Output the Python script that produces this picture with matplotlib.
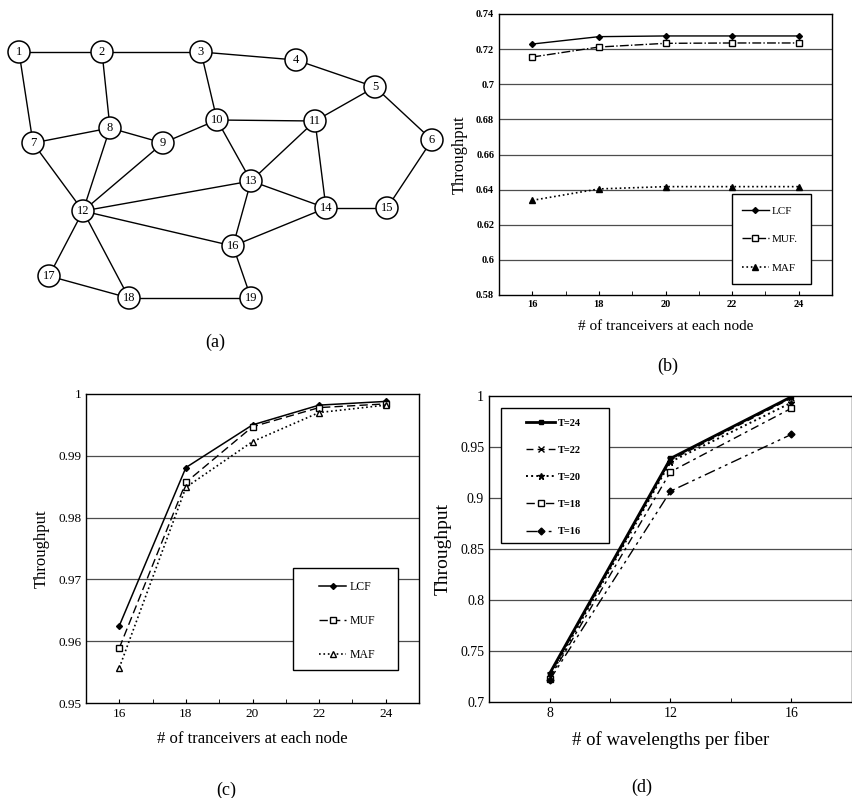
import numpy as np
import matplotlib
matplotlib.use("Agg")
import matplotlib.pyplot as plt
from matplotlib.patches import Circle, Rectangle

plt.rcParams["font.family"] = ["Liberation Serif", "DejaVu Serif"]

W, H = 853, 798

# ── (a) network topology ────────────────────────────────────────────────────
node_ids = list(range(1, 20))
node_x = [19, 102, 201, 296, 375, 432, 33, 110, 163, 217, 315, 83, 251, 326, 387, 233, 49, 129, 251]
node_y = [52, 52, 52, 60, 87, 140, 143, 128, 143, 120, 121, 211, 181, 208, 208, 246, 276, 298, 298]
links = [(1, 2), (2, 3), (3, 4), (4, 5), (1, 7), (2, 8), (3, 10), (5, 11), (5, 6),
         (6, 15), (7, 8), (8, 9), (9, 10), (10, 11), (10, 13), (11, 13), (11, 14),
         (7, 12), (8, 12), (9, 12), (12, 13), (12, 16), (13, 14), (13, 16), (14, 15),
         (14, 16), (12, 17), (12, 18), (17, 18), (18, 19), (16, 19)]

# ── (b) / (c) tranceivers ───────────────────────────────────────────────────
trx = [16, 18, 20, 22, 24]
b_lcf = [0.7229, 0.7271, 0.7275, 0.7275, 0.7275]
b_muf = [0.7155, 0.7212, 0.7233, 0.7235, 0.7235]
b_maf = [0.6339, 0.6404, 0.6417, 0.6417, 0.6417]

c_lcf = [0.9625, 0.9881, 0.9950, 0.9982, 0.9988]
c_muf = [0.9589, 0.9857, 0.9947, 0.9978, 0.9984]
c_maf = [0.9557, 0.9849, 0.9923, 0.9970, 0.9982]

# ── (d) wavelengths ─────────────────────────────────────────────────────────
wl = [8, 12, 16]
d_labels = ["T=24", "T=22", "T=20", "T=18", "T=16"]
d_vals = [
    [0.7277, 0.9388, 0.9993],
    [0.7260, 0.9370, 0.9980],
    [0.7245, 0.9355, 0.9935],
    [0.7230, 0.9257, 0.9880],
    [0.7212, 0.9067, 0.9624],
]


def px_axes(x0, y0, x1, y1):
    return fig.add_axes([x0 / W, 1 - y1 / H, (x1 - x0) / W, (y1 - y0) / H])


fig = plt.figure(figsize=(W / 100, H / 100), dpi=100)

# (a)
ax = px_axes(0, 0, 430, 330)
ax.set_xlim(0, 430)
ax.set_ylim(330, 0)
ax.axis("off")
pos = {n: (x, y) for n, x, y in zip(node_ids, node_x, node_y)}
for a, b in links:
    ax.plot([pos[a][0], pos[b][0]], [pos[a][1], pos[b][1]], color="k", lw=1, zorder=1)
for n in node_ids:
    x, y = pos[n]
    ax.add_patch(Circle((x, y), 11, facecolor="white", edgecolor="k", lw=1.1, zorder=2,
                        clip_on=False))
    ax.text(x, y, str(n), ha="center", va="center", fontsize=9, zorder=3)
fig.text(215 / W, 1 - 342 / H, "(a)", ha="center", va="center", fontsize=13)


def style_axes(ax, grid):
    for s in ax.spines.values():
        s.set_color("k")
        s.set_linewidth(1)
    for g in grid:
        ax.axhline(g, color="0.3", lw=0.9, zorder=0)
    ax.tick_params(axis="y", length=0)
    ax.tick_params(axis="x", which="both", direction="in", length=3)


def legend(ax, box, hx, y1, fs, step, hl):
    # box drawn in figure pixels, legend entries placed without frame inside it
    x0, y0, x1, y2 = box
    ax.add_patch(Rectangle((x0 / W, 1 - y2 / H), (x1 - x0) / W, (y2 - y0) / H,
                           transform=fig.transFigure, facecolor="white",
                           edgecolor="k", lw=1, zorder=4, clip_on=False))
    fs_px = fs * 100 / 72
    leg = ax.legend(loc="upper left", bbox_to_anchor=(hx / W, 1 - (y1 - 0.65 * fs_px) / H),
                    bbox_transform=fig.transFigure, frameon=False, fontsize=fs,
                    labelspacing=(step - fs_px) / fs_px, handlelength=hl,
                    handletextpad=0.3, borderpad=0, borderaxespad=0)
    leg.set_zorder(5)
    return leg


# (b)
ax = px_axes(499, 14, 832, 295)
ax.plot(trx, b_lcf, "k-", marker="D", ms=3, lw=1, label="LCF")
ax.plot(trx, b_muf, color="k", ls="-.", marker="s", ms=4, mfc="white", lw=1, label="MUF.")
ax.plot(trx, b_maf, color="k", ls=":", marker="^", ms=4, lw=1.2, label="MAF")
ax.set_xlim(15, 25)
ax.set_ylim(0.58, 0.74)
ax.set_xticks(trx)
ax.set_xticks([15, 17, 19, 21, 23, 25], minor=True)
ax.set_yticks(np.arange(0.58, 0.7401, 0.02))
ax.set_yticklabels(["0.58", "0.6", "0.62", "0.64", "0.66", "0.68", "0.7", "0.72", "0.74"])
style_axes(ax, [0.60, 0.62, 0.64, 0.66, 0.68, 0.70, 0.72])
ax.tick_params(labelsize=7.5)
for t in ax.get_xticklabels() + ax.get_yticklabels():
    t.set_fontweight("bold")
ax.set_ylabel("Throughput", fontsize=12, labelpad=6)
ax.set_xlabel("# of tranceivers at each node", fontsize=11, labelpad=8)
legend(ax, (732, 194, 811, 284), 742, 213, 8, 30, 2.4)
fig.text(668 / W, 1 - 366 / H, "(b)", ha="center", va="center", fontsize=13)

# (c)
ax = px_axes(86, 394, 419, 703)
ax.plot(trx, c_lcf, "k-", marker="D", ms=3, lw=1.1, label="LCF")
ax.plot(trx, c_muf, color="k", ls=(0, (6, 3)), marker="s", ms=4, mfc="white", lw=1, label="MUF")
ax.plot(trx, c_maf, color="k", ls=":", marker="^", ms=4, mfc="white", lw=1.2, label="MAF")
ax.set_xlim(15, 25)
ax.set_ylim(0.95, 1.0)
ax.set_xticks(trx)
ax.set_xticks([15, 17, 19, 21, 23, 25], minor=True)
ax.set_yticks([0.95, 0.96, 0.97, 0.98, 0.99, 1.0])
ax.set_yticklabels(["0.95", "0.96", "0.97", "0.98", "0.99", "1"])
style_axes(ax, [0.96, 0.97, 0.98, 0.99])
ax.tick_params(labelsize=9.5)
ax.set_ylabel("Throughput", fontsize=12, labelpad=6)
ax.set_xlabel("# of tranceivers at each node", fontsize=12, labelpad=8)
legend(ax, (293, 568, 398, 670), 319, 589, 8.5, 33.5, 2.3)
fig.text(226 / W, 1 - 790 / H, "(c)", ha="center", va="center", fontsize=13)

# (d)
ax = px_axes(489, 396, 852, 702)
d_styles = [
    dict(ls="-", marker="s", ms=3.5, lw=2.0),
    dict(ls=(0, (5, 3)), marker="x", ms=4.5, lw=1.0),
    dict(ls=":", marker="*", ms=5, lw=1.4),
    dict(ls=(0, (6, 3, 2, 3)), marker="s", ms=4, mfc="white", lw=1.0),
    dict(ls=(0, (8, 3, 2, 3, 2, 3)), marker="D", ms=3.5, lw=1.0),
]
for lab, vals, st in zip(d_labels, d_vals, d_styles):
    ax.plot(wl, vals, color="k", label=lab, **st)
ax.set_xlim(6, 18)
ax.set_ylim(0.7, 1.0)
ax.set_xticks(wl)
ax.set_xticks([6, 10, 14, 18], minor=True)
ax.set_yticks([0.7, 0.75, 0.8, 0.85, 0.9, 0.95, 1.0])
ax.set_yticklabels(["0.7", "0.75", "0.8", "0.85", "0.9", "0.95", "1"])
style_axes(ax, [0.75, 0.8, 0.85, 0.9, 0.95])
ax.tick_params(labelsize=10)
ax.set_ylabel("Throughput", fontsize=14, labelpad=6)
ax.set_xlabel("# of wavelengths per fiber", fontsize=13.5, labelpad=8)
leg = legend(ax, (501, 408, 609, 543), 526, 425, 7.5, 28.3, 2.8)
for t in leg.get_texts():
    t.set_fontweight("bold")
fig.text(642 / W, 1 - 787 / H, "(d)", ha="center", va="center", fontsize=13)

fig.savefig("out.png", dpi=100)
